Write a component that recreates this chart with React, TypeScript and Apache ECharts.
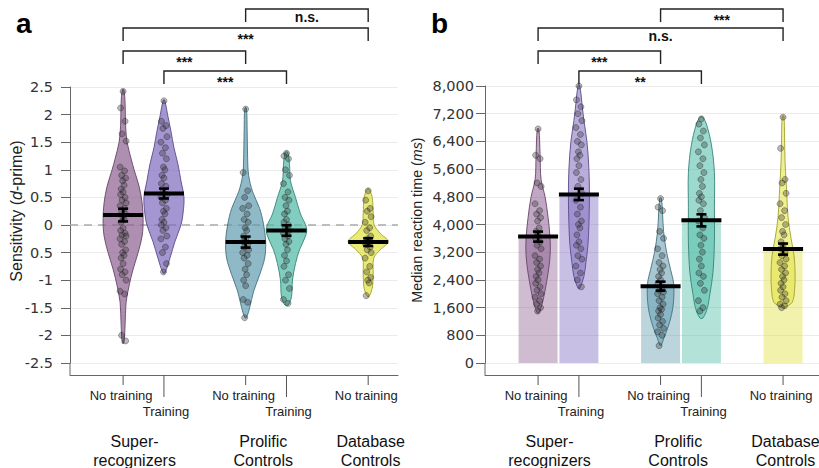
import React, { useEffect, useRef } from 'react';
import * as echarts from 'echarts';

// ---------------- data ----------------
const CAT_POS = [0, 1, 3, 4, 6];
const CAT_LABELS = ['No training', 'Training', 'No training', 'Training', 'No training'];
const CAT_ROW = [0, 1, 0, 1, 0];
const GROUP_LABELS = ['Super-\nrecognizers', 'Prolific\nControls', 'Database\nControls'];
const GROUP_POS = [0.28, 3.43, 6.06];

const Y_LABELS_A = ['-2.5', '-2', '-1.5', '-1', '0.5', '0', '0.5', '1', '1.5', '2', '2.5'];
const Y_LABELS_B = ['0', '800', '1,600', '2,400', '3,200', '4,000', '4,800', '5,600', '6,400', '7,200', '8,000'];

const MEAN_A = [0.18, 0.57, -0.31, -0.1, -0.31];
const SE_A = [0.115, 0.09, 0.1, 0.095, 0.07];
const MEAN_B = [3650, 4870, 2220, 4120, 3290];
const SE_B = [145, 165, 130, 175, 160];

// violin profiles: [value, relative half-width]
const VIOLIN_SR_NT_A = [[2.45, 0.04], [2.2, 0.1], [1.8, 0.125], [1.5, 0.2], [1.2, 0.4], [1.0, 0.55], [0.7, 0.8], [0.4, 0.95], [0.1, 1.0], [-0.2, 0.95], [-0.5, 0.75], [-0.8, 0.5], [-1.1, 0.3], [-1.4, 0.15], [-1.8, 0.1], [-2.14, 0.04]];
const VIOLIN_SR_T_A = [[2.26, 0.04], [2.0, 0.18], [1.7, 0.35], [1.4, 0.5], [1.1, 0.7], [0.8, 0.85], [0.5, 1.0], [0.2, 0.95], [0.0, 0.85], [-0.3, 0.55], [-0.6, 0.3], [-0.87, 0.05]];
const VIOLIN_PC_NT_A = [[2.12, 0.04], [1.7, 0.075], [1.2, 0.1], [0.9, 0.15], [0.6, 0.35], [0.3, 0.7], [0.0, 0.9], [-0.3, 1.0], [-0.6, 0.95], [-0.9, 0.7], [-1.2, 0.4], [-1.5, 0.2], [-1.68, 0.04]];
const VIOLIN_PC_T_A = [[1.32, 0.06], [1.1, 0.15], [0.8, 0.2], [0.5, 0.45], [0.2, 0.7], [-0.05, 1.0], [-0.2, 0.95], [-0.45, 0.65], [-0.7, 0.45], [-1.0, 0.3], [-1.3, 0.25], [-1.45, 0.08]];
const VIOLIN_DC_A = [[0.65, 0.04], [0.5, 0.2], [0.2, 0.25], [0.0, 0.3], [-0.15, 0.6], [-0.3, 1.0], [-0.45, 0.6], [-0.6, 0.28], [-0.9, 0.25], [-1.15, 0.2], [-1.3, 0.04]];

const VIOLIN_SR_NT_B = [[6760, 0.04], [6000, 0.1], [5300, 0.15], [4800, 0.35], [4200, 0.5], [3600, 0.6], [3100, 0.6], [2600, 0.5], [2100, 0.35], [1700, 0.2], [1450, 0.04]];
const VIOLIN_SR_T_B = [[8030, 0.04], [7500, 0.15], [7000, 0.25], [6400, 0.4], [5600, 0.5], [4800, 0.525], [4000, 0.5], [3400, 0.45], [2900, 0.35], [2500, 0.25], [2150, 0.04]];
const VIOLIN_PC_NT_B = [[4760, 0.04], [4300, 0.1], [3800, 0.15], [3200, 0.3], [2700, 0.5], [2300, 0.65], [1800, 0.65], [1400, 0.55], [1000, 0.35], [700, 0.15], [520, 0.04]];
const VIOLIN_PC_T_B = [[7100, 0.06], [6900, 0.25], [6300, 0.5], [5500, 0.65], [4500, 0.65], [3500, 0.65], [2600, 0.575], [2000, 0.425], [1600, 0.3], [1300, 0.08]];
const VIOLIN_DC_B = [[7130, 0.04], [6500, 0.075], [5800, 0.1], [5000, 0.175], [4200, 0.25], [3600, 0.4], [3100, 0.55], [2600, 0.6], [2100, 0.575], [1750, 0.45], [1600, 0.04]];

// individual participants
const POINTS_SR_NT_A = [2.42, 2.12, 1.88, 1.65, 1.52, 1.05, 0.98, 0.9, 0.85, 0.8, 0.72, 0.65, 0.6, 0.55, 0.5, 0.45, 0.4, 0.35, 0.3, 0.25, 0.2, 0.15, 0.1, 0.05, -0.05, -0.1, -0.15, -0.18, -0.2, -0.25, -0.3, -0.35, -0.45, -0.5, -0.55, -0.6, -0.7, -0.8, -0.85, -0.9, -1.0, -1.2, -1.25, -2.0, -2.1];
const POINTS_SR_T_A = [2.25, 1.88, 1.8, 1.75, 1.6, 1.5, 1.4, 1.3, 1.2, 1.05, 1.0, 0.9, 0.85, 0.75, 0.7, 0.6, 0.55, 0.5, 0.45, 0.4, 0.3, 0.25, 0.2, 0.1, 0.05, 0.0, -0.05, -0.1, -0.2, -0.25, -0.4, -0.5, -0.7, -0.85];
const POINTS_PC_NT_A = [2.1, 0.95, 0.62, 0.5, 0.35, 0.3, 0.2, 0.1, 0.05, -0.05, -0.1, -0.2, -0.25, -0.3, -0.35, -0.4, -0.45, -0.5, -0.55, -0.6, -0.7, -0.8, -0.9, -1.0, -1.1, -1.35, -1.4, -1.68];
const POINTS_PC_T_A = [1.3, 1.25, 1.2, 1.0, 0.9, 0.75, 0.6, 0.5, 0.45, 0.35, 0.25, 0.2, 0.1, 0.05, 0.0, -0.05, -0.1, -0.15, -0.2, -0.25, -0.3, -0.35, -0.45, -0.55, -0.65, -0.75, -0.9, -1.0, -1.15, -1.35, -1.42];
const POINTS_DC_A = [0.62, 0.45, 0.3, 0.25, 0.15, 0.05, -0.05, -0.1, -0.2, -0.25, -0.28, -0.3, -0.32, -0.35, -0.4, -0.45, -0.5, -0.6, -0.75, -0.85, -0.95, -1.0, -1.05, -1.28];

const POINTS_SR_NT_B = [6760, 6000, 5900, 5200, 5100, 4600, 4400, 4300, 4200, 4100, 3900, 3800, 3700, 3600, 3500, 3400, 3300, 3100, 3000, 2900, 2800, 2700, 2600, 2500, 2400, 2300, 2200, 2100, 2000, 1900, 1800, 1700, 1600, 1500];
const POINTS_SR_T_B = [8000, 7600, 7400, 7200, 7000, 6800, 6600, 6400, 6300, 6100, 6000, 5900, 5700, 5500, 5300, 5100, 4900, 4700, 4500, 4300, 4100, 4000, 3900, 3700, 3500, 3400, 3300, 3100, 3000, 2800, 2600, 2400, 2200];
const POINTS_PC_NT_B = [4750, 4500, 4400, 3800, 3600, 3300, 3100, 2900, 2800, 2700, 2600, 2500, 2400, 2300, 2200, 2100, 2050, 2000, 1900, 1800, 1700, 1600, 1550, 1500, 1400, 1300, 1200, 1100, 1000, 900, 800, 500];
const POINTS_PC_T_B = [7050, 6900, 6700, 6500, 6300, 6100, 5900, 5700, 5500, 5300, 5100, 4900, 4800, 4700, 4600, 4400, 4200, 4100, 3900, 3700, 3600, 3400, 3200, 3000, 2800, 2600, 2500, 2300, 2100, 1800, 1600, 1500];
const POINTS_DC_B = [7100, 6200, 5300, 5200, 4900, 4600, 4400, 4200, 4000, 3800, 3700, 3500, 3400, 3300, 3200, 3100, 3000, 2900, 2800, 2700, 2600, 2500, 2400, 2300, 2200, 2100, 2000, 1900, 1800, 1700, 1650, 1600];

// significance brackets (indices into CAT_POS)
const BRACKET_FROM_A = [2, 0, 0, 1];
const BRACKET_TO_A = [4, 4, 2, 3];
const BRACKET_LABEL_A = ['n.s.', '***', '***', '***'];
const BRACKET_FROM_B = [2, 0, 0, 1];
const BRACKET_TO_B = [4, 4, 2, 3];
const BRACKET_LABEL_B = ['***', 'n.s.', '***', '**'];

// ---------------- layout / style ----------------
const X_MIN = -1.3;
const X_MAX_A = 6.73;
const X_MAX_B = 6.88;
const AXIS_GAP = 12;
const BRACKET_TOPS = [9, 28, 51, 71];
const BRACKET_DROP = 13;
const JITTER_PX = [0, -2.5, 2, -1, 3, -3, 1.5, -1.5, 2.5, -0.5, 1, -2];
const VIOLIN_HALF = 0.49;
const HALF_PX = 20;
const BASE = [[140, 95, 145], [125, 105, 190], [95, 155, 175], [75, 185, 165], [225, 225, 60]];
const rgba = (c: number[], a: number) => `rgba(${c[0]},${c[1]},${c[2]},${a})`;
const dark = (c: number[]) => `rgb(${c.map((v) => Math.round(v * 0.72)).join(',')})`;
const TXT = '#222';

const PANELS = [
  {
    yMin: -2.5, yMax: 2.5, interval: 0.5, xMax: X_MAX_A, labels: Y_LABELS_A,
    grid: { left: 70, top: 87, width: 328, height: 276 }, labelMargin: 17,
    mean: MEAN_A, se: SE_A,
    violins: [VIOLIN_SR_NT_A, VIOLIN_SR_T_A, VIOLIN_PC_NT_A, VIOLIN_PC_T_A, VIOLIN_DC_A],
    points: [POINTS_SR_NT_A, POINTS_SR_T_A, POINTS_PC_NT_A, POINTS_PC_T_A, POINTS_DC_A],
    bFrom: BRACKET_FROM_A, bTo: BRACKET_TO_A, bLabel: BRACKET_LABEL_A,
    bars: false, violinAlpha: 0.7,
  },
  {
    yMin: 0, yMax: 8000, interval: 800, xMax: X_MAX_B, labels: Y_LABELS_B,
    grid: { left: 485, top: 86, width: 334, height: 277 }, labelMargin: 11,
    mean: MEAN_B, se: SE_B,
    violins: [VIOLIN_SR_NT_B, VIOLIN_SR_T_B, VIOLIN_PC_NT_B, VIOLIN_PC_T_B, VIOLIN_DC_B],
    points: [POINTS_SR_NT_B, POINTS_SR_T_B, POINTS_PC_NT_B, POINTS_PC_T_B, POINTS_DC_B],
    bFrom: BRACKET_FROM_B, bTo: BRACKET_TO_B, bLabel: BRACKET_LABEL_B,
    bars: true, violinAlpha: 0.55,
  },
];

function buildOption() {
  const grid: any[] = [];
  const xAxis: any[] = [];
  const yAxis: any[] = [];
  const series: any[] = [];

  PANELS.forEach((P, p) => {
    grid.push({ ...P.grid, containLabel: false });
    xAxis.push({
      gridIndex: p, type: 'value', min: X_MIN, max: P.xMax, offset: AXIS_GAP, position: 'bottom',
      axisLine: { show: true, onZero: false, lineStyle: { color: '#666', width: 1 } },
      axisTick: { show: false }, axisLabel: { show: false }, splitLine: { show: false },
    });
    yAxis.push({
      gridIndex: p, type: 'value', min: P.yMin, max: P.yMax, interval: P.interval,
      axisLine: { show: true, onZero: false, lineStyle: { color: '#666', width: 1 } },
      axisTick: { show: true, length: 9, lineStyle: { color: '#666' } },
      axisLabel: {
        margin: P.labelMargin, fontFamily: 'DejaVu Sans', fontSize: 14.5, color: '#333',
        formatter: (v: number) => P.labels[Math.round((v - P.yMin) / P.interval)] ?? '',
      },
      splitLine: { show: true, lineStyle: { color: '#ebebeb', width: 1 } },
    });

    const common = { xAxisIndex: p, yAxisIndex: p, silent: true, animation: false };

    if (P.bars) {
      series.push({
        ...common, type: 'custom', z: 1,
        data: CAT_POS.map((_, i) => [i, P.mean[i]]),
        renderItem: (_: any, api: any) => {
          const i = api.value(0);
          const top = api.coord([CAT_POS[i], P.mean[i]]);
          const bot = api.coord([CAT_POS[i], P.yMin]);
          return {
            type: 'rect',
            shape: { x: top[0] - HALF_PX + 0.5, y: top[1], width: 2 * HALF_PX - 1, height: bot[1] - top[1] },
            style: { fill: rgba(BASE[i], 0.42) },
          };
        },
      });
    } else {
      series.push({
        ...common, type: 'custom', z: 2,
        data: [[0, 0]],
        renderItem: (_: any, api: any) => {
          const a = api.coord([X_MIN, 0]);
          const b = api.coord([P.xMax, 0]);
          return {
            type: 'line', shape: { x1: a[0], y1: a[1], x2: b[0], y2: b[1] },
            style: { stroke: '#aaaaaa', lineWidth: 1.5, lineDash: [8, 6] },
          };
        },
      });
    }

    // violins
    series.push({
      ...common, type: 'custom', z: 3,
      data: CAT_POS.map((_, i) => [i, P.mean[i]]),
      renderItem: (_: any, api: any) => {
        const i = api.value(0);
        const prof = P.violins[i] as number[][];
        const pos = CAT_POS[i];
        const right = prof.map(([v, w]) => api.coord([pos + w * VIOLIN_HALF, v]));
        const left = prof.slice().reverse().map(([v, w]) => api.coord([pos - w * VIOLIN_HALF, v]));
        return {
          type: 'polygon',
          shape: { points: [...right, ...left], smooth: 0.35 },
          style: { fill: rgba(BASE[i], P.violinAlpha), stroke: dark(BASE[i]), lineWidth: 0.9 },
        };
      },
    });

    // points
    const pts: number[][] = [];
    P.points.forEach((arr, i) => arr.forEach((v, k) => pts.push([i, v, k])));
    series.push({
      ...common, type: 'custom', z: 4,
      data: pts,
      renderItem: (_: any, api: any) => {
        const i = api.value(0);
        const v = api.value(1);
        const k = api.value(2);
        const c = api.coord([CAT_POS[i], v]);
        return {
          type: 'circle',
          shape: { cx: c[0] + JITTER_PX[k % JITTER_PX.length], cy: c[1], r: 3 },
          style: { fill: 'rgba(45,45,45,0.32)', stroke: 'rgba(30,30,30,0.45)', lineWidth: 0.8 },
        };
      },
    });

    // means + error bars
    series.push({
      ...common, type: 'custom', z: 5,
      data: CAT_POS.map((_, i) => [i, P.mean[i]]),
      renderItem: (_: any, api: any) => {
        const i = api.value(0);
        const m = api.coord([CAT_POS[i], P.mean[i]]);
        const hi = api.coord([CAT_POS[i], P.mean[i] + P.se[i]]);
        const lo = api.coord([CAT_POS[i], P.mean[i] - P.se[i]]);
        const st = { stroke: '#000', lineWidth: 2.6 };
        return {
          type: 'group',
          children: [
            { type: 'line', shape: { x1: m[0], y1: hi[1], x2: m[0], y2: lo[1] }, style: st },
            { type: 'line', shape: { x1: m[0] - 5, y1: hi[1], x2: m[0] + 5, y2: hi[1] }, style: st },
            { type: 'line', shape: { x1: m[0] - 5, y1: lo[1], x2: m[0] + 5, y2: lo[1] }, style: st },
            { type: 'line', shape: { x1: m[0] - HALF_PX, y1: m[1], x2: m[0] + HALF_PX, y2: m[1] }, style: { stroke: '#000', lineWidth: 4 } },
          ],
        };
      },
    });

    // brackets
    series.push({
      ...common, type: 'custom', z: 6, clip: false,
      data: P.bLabel.map((_, i) => [i, P.yMax]),
      renderItem: (_: any, api: any) => {
        const i = api.value(0);
        const x1 = api.coord([CAT_POS[P.bFrom[i]], P.yMax])[0];
        const x2 = api.coord([CAT_POS[P.bTo[i]], P.yMax])[0];
        const top = BRACKET_TOPS[i];
        const lab = P.bLabel[i];
        const isStar = lab.indexOf('*') >= 0;
        return {
          type: 'group',
          children: [
            {
              type: 'polyline',
              shape: { points: [[x1, top + BRACKET_DROP], [x1, top], [x2, top], [x2, top + BRACKET_DROP]] },
              style: { stroke: '#222', lineWidth: 1.4, fill: 'none' },
            },
            {
              type: 'text', x: (x1 + x2) / 2, y: top + (isStar ? 10.5 : 7.5),
              style: { text: lab, fill: '#111', fontSize: 14, fontWeight: 'bold', fontFamily: 'Liberation Sans', align: 'center', verticalAlign: 'middle' },
            },
          ],
        };
      },
    });

    // x category ticks + labels, y-axis extension
    series.push({
      ...common, type: 'custom', z: 6, clip: false,
      data: CAT_POS.map((_, i) => [i, P.yMin]),
      renderItem: (_: any, api: any) => {
        const i = api.value(0);
        const base = api.coord([CAT_POS[i], P.yMin]);
        const by = base[1] + AXIS_GAP;
        const row = CAT_ROW[i];
        const children: any[] = [
          { type: 'line', shape: { x1: base[0], y1: by, x2: base[0], y2: by + (row ? 22 : 10) }, style: { stroke: '#555', lineWidth: 1 } },
          {
            type: 'text', x: base[0] + (row ? 2 : -2), y: by + (row ? 36 : 20.5),
            style: { text: CAT_LABELS[i], fill: TXT, fontSize: 13, fontFamily: 'Liberation Sans', align: 'center', verticalAlign: 'middle' },
          },
        ];
        if (i === 0) {
          const c = api.coord([X_MIN, P.yMin]);
          children.push({ type: 'line', shape: { x1: c[0], y1: c[1], x2: c[0], y2: c[1] + AXIS_GAP }, style: { stroke: '#666', lineWidth: 1 } });
        }
        return { type: 'group', children };
      },
    });

    // group labels
    series.push({
      ...common, type: 'custom', z: 6, clip: false,
      data: GROUP_POS.map((_, i) => [i, P.yMin]),
      renderItem: (_: any, api: any) => {
        const i = api.value(0);
        const c = api.coord([GROUP_POS[i], P.yMin]);
        return {
          type: 'text', x: c[0], y: c[1] + AXIS_GAP + 75.5,
          style: { text: GROUP_LABELS[i], fill: '#111', fontSize: 16, lineHeight: 19, fontFamily: 'Liberation Sans', align: 'center', verticalAlign: 'middle' },
        };
      },
    });
  });

  const rich = (fs: number) => ({
    n: { fontSize: fs, fontFamily: 'Liberation Sans', fill: TXT, color: TXT },
    i: { fontSize: fs, fontFamily: 'Liberation Sans', fontStyle: 'italic', fill: TXT, color: TXT },
  });

  const graphic = [
    { type: 'text', x: 16, y: 23, style: { text: 'a', fill: '#000', fontSize: 28, fontWeight: 'bold', fontFamily: 'Liberation Sans', align: 'left', verticalAlign: 'middle' } },
    { type: 'text', x: 431, y: 23, style: { text: 'b', fill: '#000', fontSize: 28, fontWeight: 'bold', fontFamily: 'Liberation Sans', align: 'left', verticalAlign: 'middle' } },
    { type: 'text', x: 16, y: 211, rotation: Math.PI / 2, style: { text: '{n|Sensitivity (}{i|d}{n|-prime)}', rich: rich(16), align: 'center', verticalAlign: 'middle' } },
    { type: 'text', x: 417, y: 220, rotation: Math.PI / 2, style: { text: '{n|Median reaction time (}{i|ms}{n|)}', rich: rich(14.3), align: 'center', verticalAlign: 'middle' } },
  ];

  return { animation: false, backgroundColor: '#fff', grid, xAxis, yAxis, series, graphic };
}

export default function App() {
  const ref = useRef<HTMLDivElement>(null);
  useEffect(() => {
    document.body.style.margin = '0';
    if (!ref.current) return;
    const chart = echarts.init(ref.current, undefined, { renderer: 'svg' });
    chart.setOption(buildOption() as any);
    return () => chart.dispose();
  }, []);
  return <div ref={ref} style={{ width: 819, height: 468 }} />;
}
